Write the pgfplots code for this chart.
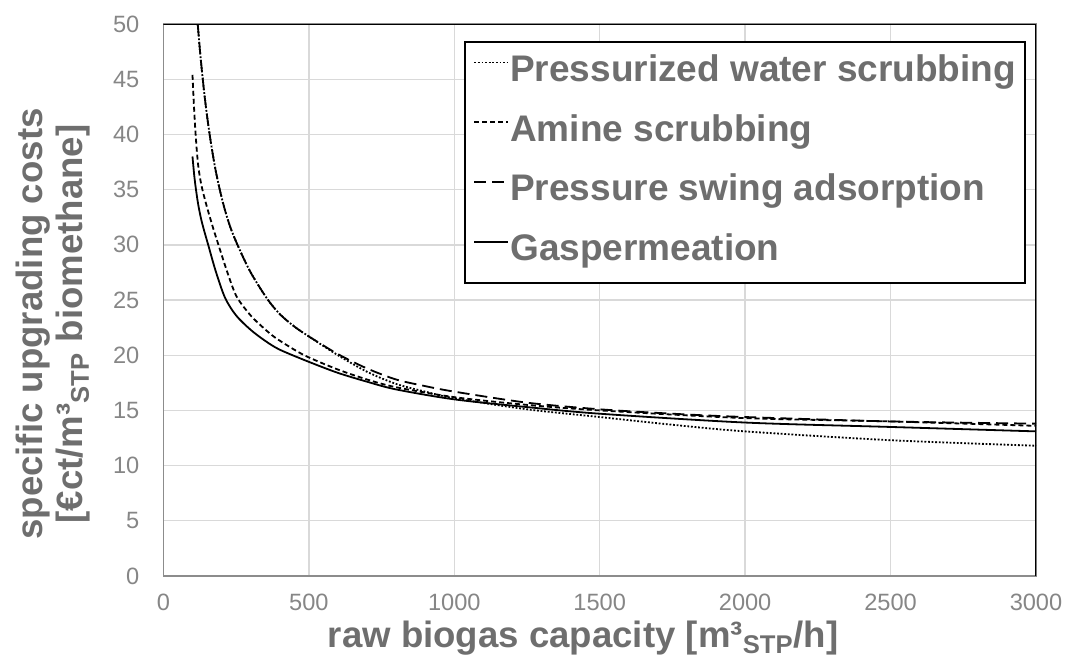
\documentclass[border=0pt]{standalone}
\usepackage{fontspec}
\setmainfont{Liberation Sans}
\usepackage{pgfplots}
\pgfplotsset{compat=1.18}
\definecolor{labgray}{HTML}{6E6E6E}
\definecolor{tickgray}{HTML}{868686}
\definecolor{gridgray}{HTML}{D9D9D9}
\definecolor{axgray}{HTML}{8C8C8C}
\begin{document}
\begin{tikzpicture}
\useasboundingbox (-81.7pt,-46.5pt) rectangle (451.8pt,288pt);
\begin{axis}[
  scale only axis, width=436.3pt, height=276pt,
  xmin=0, xmax=3000, ymin=0, ymax=50,
  xtick={0,500,...,3000}, ytick={0,5,...,50},
  grid=major, major grid style={gridgray, line width=0.7pt},
  major tick length=0pt,
  axis line style={axgray, line width=0.6pt},
  /pgf/number format/assume math mode=true,
  /pgf/number format/1000 sep={},
  ticklabel style={font=\fontsize{11.8}{13}\selectfont, text=tickgray},
  yticklabel style={xshift=-8.5pt},
  xticklabel style={yshift=-5.5pt},
  xlabel={raw biogas capacity [m³\textsubscript{STP}/h]},
  xlabel style={at={(axis description cs:0.481,-0.1304)}, anchor=base, font=\bfseries\fontsize{18.3}{20}\selectfont, text=labgray},
  ylabel={specific upgrading costs\\{}[€ct/m³\textsubscript{STP} biomethane]},
  ylabel style={at={(axis description cs:-0.083,0.4565)}, anchor=south, align=center, inner sep=0pt, font=\bfseries\fontsize{18.3}{20.3}\selectfont, text=labgray},
  legend style={at={(axis description cs:0.345,0.970)}, anchor=north west, draw=black, line width=1pt, fill=white, inner xsep=4pt, inner ysep=6pt, row sep=10.85pt, font=\bfseries\fontsize{18.5}{22}\selectfont, text=labgray, nodes={inner sep=0.5pt, text height=13.5pt, text depth=4.5pt}, /tikz/every even column/.append style={column sep=0pt}},
  legend cell align=left,
  legend image code/.code={\draw[#1] (0pt,5pt) -- (17pt,5pt);},
]
\addplot[black, line width=0.9pt, dash pattern=on 0.9pt off 0.9pt, smooth] coordinates {
(118,50) (125,47.8) (133,45.6) (142,43.4) (152,41.3) (163,39.3) (177,37.1) (192,35.2) (210,33.3) (230,31.6) (258,29.8) (300,27.5) (357,25.1) (401,23.7) (450,22.6) (500,21.7) (600,20.0) (700,18.5) (800,17.4) (900,16.7) (1000,16.1) (1250,15.1) (1500,14.4) (1750,13.7) (2000,13.1) (2500,12.3) (3000,11.8)};
\addlegendentry{Pressurized water scrubbing}
\addplot[black, line width=0.9pt, dash pattern=on 2.5pt off 1.5pt, smooth] coordinates {
(100,45.4) (105,42.6) (110,40.3) (115,38.5) (120,37.1) (127,35.9) (135,34.9) (150,33.4) (170,31.6) (188,30.1) (220,27.5) (252,25.3) (300,23.6) (343,22.5) (384,21.6) (450,20.5) (500,19.8) (600,18.7) (700,17.8) (800,17.1) (1000,16.2) (1250,15.5) (1500,15.0) (2000,14.3) (2500,14.0) (3000,13.6)};
\addlegendentry{Amine scrubbing}
\addplot[black, line width=0.9pt, dash pattern=on 6pt off 3pt, smooth] coordinates {
(118,50) (125,47.8) (133,45.6) (142,43.4) (152,41.3) (163,39.3) (177,37.1) (192,35.2) (210,33.3) (230,31.6) (258,29.8) (300,27.5) (357,25.1) (401,23.7) (450,22.6) (500,21.7) (600,20.1) (700,18.8) (800,17.8) (900,17.2) (1000,16.7) (1250,15.7) (1500,15.1) (1750,14.7) (2000,14.4) (2500,14.0) (3000,13.8)};
\addlegendentry{Pressure swing adsorption}
\addplot[black, line width=0.9pt, smooth] coordinates {
(100,38.0) (106,36.3) (112,35.0) (120,33.6) (130,32.3) (142,31.1) (154,30.0) (180,27.6) (212,25.2) (250,23.6) (300,22.3) (350,21.3) (400,20.5) (500,19.4) (600,18.4) (700,17.6) (800,16.9) (1000,16.0) (1250,15.3) (1500,14.7) (2000,13.9) (2500,13.5) (3000,13.1)};
\addlegendentry{Gaspermeation}
\draw[black, line width=1pt] (rel axis cs:0,1) -- (rel axis cs:1,1) -- (rel axis cs:1,0);
\end{axis}
\end{tikzpicture}
\end{document}
